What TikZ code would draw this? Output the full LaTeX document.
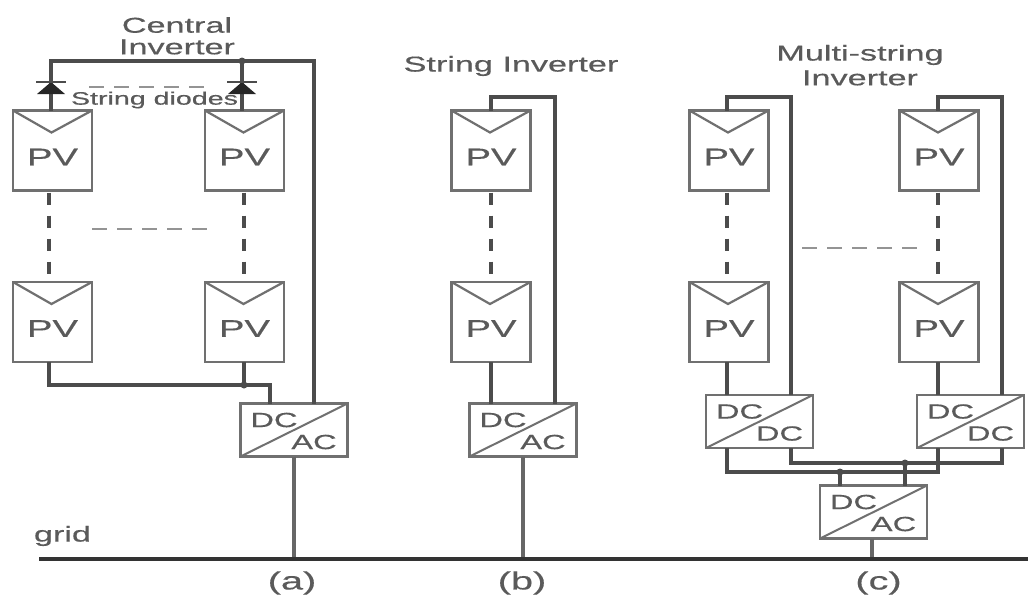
\documentclass[tikz,border=0pt]{standalone}
\usepackage{fontspec}
\setmainfont{Liberation Sans}[FakeBold=0.3]
\usetikzlibrary{calc}
\definecolor{wirec}{HTML}{4C4C4C}
\definecolor{boxc}{HTML}{707070}
\definecolor{txtc}{HTML}{5A5A5A}
\newcommand{\stx}[1]{\scalebox{1.59}[1]{#1}}
\tikzset{
  wire/.style={draw=wirec,line width=3.1pt},
  thick wire/.style={draw=wirec!85,line width=3.4pt},
  link/.style={draw=wirec,line width=3.6pt,dash pattern=on 12pt off 11pt},
  gap/.style={draw=boxc!75,line width=1.8pt,dash pattern=on 15pt off 10pt},
  pv/.style={draw=boxc,line width=2.3pt,minimum width=79pt,minimum height=80pt,inner sep=0pt,outer sep=0pt,fill=white},
  conv/.style={draw=boxc,line width=2.3pt,minimum width=107pt,minimum height=53pt,inner sep=0pt,outer sep=0pt,fill=white},
  lab/.style={text=txtc,inner sep=0pt,font=\fontsize{21.5}{24}\selectfont,align=center},
  convlab/.style={text=txtc,inner sep=0pt,font=\fontsize{20.5}{24}\selectfont},
  pvlab/.style={text=txtc,inner sep=0pt,font=\fontsize{24}{26}\selectfont},
  dot/.style={circle,fill=wirec,inner sep=0pt,minimum size=7pt},
  diodetri/.style={fill=black!85,draw=none}
}
\newcommand{\pvnode}[3]{% name, cx, cy
  \node[pv] (#1) at (#2,#3) {};
  \draw[draw=boxc,line width=2.2pt] (#1.north west) -- ($(#1.north)+(-1,22)$) -- (#1.north east);
  \node[pvlab,anchor=center] (#1t) at ($(#1.center)+(0,6.5)$) {\stx{PV}};
}
\newcommand{\convnode}[5]{% name, cx, cy, txt1, txt2
  \node[conv] (#1) at (#2,#3) {};
  \draw[draw=boxc,line width=2pt] (#1.south west) -- (#1.north east);
  \node[convlab] (#1a) at ($(#1.center)+(-20,-10)$) {\stx{#4}};
  \node[convlab] (#1b) at ($(#1.center)+(20,12)$) {\stx{#5}};
}
\begin{document}
\begin{tikzpicture}[x=1pt,y=-1pt]
\useasboundingbox (0,0) rectangle (1028,595);
\fill[white] (0,0) rectangle (1028,595);

% grid
\coordinate (busL) at (39,559);
\coordinate (busR) at (1028,559);
\coordinate (ga) at (293,559);
\coordinate (gb) at (522,559);
\coordinate (gc) at (872,559);

% (a) routing points
\coordinate (aTL) at (51,61);
\coordinate (aTM) at (242,61);
\coordinate (aTR) at (314,61);
\coordinate (aBL) at (49,385);
\coordinate (aBM) at (244,385);
\coordinate (aBR) at (270,385);

\pvnode{a1}{52.5}{150.5}
\pvnode{a2}{244.5}{150.5}
\pvnode{a3}{52.5}{322}
\pvnode{a4}{244.5}{322}
\convnode{ca}{294}{430}{DC}{AC}

\pvnode{b1}{491}{150.5}
\pvnode{b2}{491}{322}
\convnode{cb}{523}{430}{DC}{AC}

\pvnode{c1}{729}{150.5}
\pvnode{c2}{729}{322}
\pvnode{c3}{939}{150.5}
\pvnode{c4}{939}{322}
\convnode{d1}{759.5}{421.5}{DC}{DC}
\convnode{d2}{970.5}{421.5}{DC}{DC}
\convnode{ce}{873.5}{512}{DC}{AC}

% (a) wiring
\draw[wire] (aTL |- a1.north) -- (aTL) -- (aTR) -- (aTR |- ca.north);
\draw[wire] (aTM) -- (aTM |- a2.north);
\draw[wire] (aBL |- a3.south) -- (aBL) -- (aBR) -- (aBR |- ca.north);
\draw[wire] (aBM |- a4.south) -- (aBM);
\node[dot] (ja1) at (aTM) {};
\node[dot] (ja2) at (aBM) {};
\draw[link] ($(aBL |- a1.south)+(0,2)$) -- (aBL |- a3.north);
\draw[link] ($(aBM |- a2.south)+(0,2)$) -- (aBM |- a4.north);
\draw[thick wire] (ca.south) -- (ca.south |- ga);

% diodes
\foreach \dx in {51,242}{
  \fill[diodetri] (\dx-14,94) -- (\dx,82) -- (\dx+14,94) -- cycle;
  \draw[draw=wirec,line width=1.8pt] (\dx-15,82) -- (\dx+15,82);
}

% (b) wiring
\coordinate (bTL) at (491,97);
\coordinate (bTR) at (555,97);
\draw[wire] (bTL |- b1.north) -- (bTL) -- (bTR) -- (bTR |- cb.north);
\draw[link] ($(b1.south)+(0,2)$) -- (b2.north);
\draw[wire] (b2.south) -- (b2.south |- cb.north);
\draw[thick wire] (cb.south) -- (cb.south |- gb);

% (c) wiring
\coordinate (c1TL) at (727,97);
\coordinate (c1TR) at (791,97);
\coordinate (c3TL) at (938,97);
\coordinate (c3TR) at (1002,97);
\coordinate (uL) at (791,463);
\coordinate (uR) at (1002,463);
\coordinate (lL) at (727,472);
\coordinate (lR) at (938,472);
\coordinate (inL) at (840,472);
\coordinate (inR) at (905,463);
\draw[wire] (c1TL |- c1.north) -- (c1TL) -- (c1TR) -- (c1TR |- d1.north);
\draw[wire] (c3TL |- c3.north) -- (c3TL) -- (c3TR) -- (c3TR |- d2.north);
\draw[link] ($(c1TL |- c1.south)+(0,2)$) -- (c1TL |- c2.north);
\draw[link] ($(c3TL |- c3.south)+(0,2)$) -- (c3TL |- c4.north);
\draw[wire] (c1TL |- c2.south) -- (c1TL |- d1.north);
\draw[wire] (c3TL |- c4.south) -- (c3TL |- d2.north);
\draw[wire] (uL |- d1.south) -- (uL) -- (uR) -- (uR |- d2.south);
\draw[wire] (lL |- d1.south) -- (lL) -- (lR) -- (lR |- d2.south);
\draw[wire] (inL) -- (inL |- ce.north);
\draw[wire] (inR) -- (inR |- ce.north);
\node[dot] (jc1) at (inL) {};
\node[dot] (jc2) at (inR) {};
\draw[thick wire] (gc |- ce.south) -- (gc);

% grid line
\draw[draw=black!80,line width=3.4pt] (busL) -- (busR);

% parallel-string dashes
\coordinate (g1a) at (89,87); \coordinate (g1b) at (205,87);
\coordinate (g2a) at (92,229); \coordinate (g2b) at (212,229);
\coordinate (g3a) at (802,248); \coordinate (g3b) at (920,248);
\draw[gap] (g1a) -- (g1b);
\draw[gap] (g2a) -- (g2b);
\draw[gap] (g3a) -- (g3b);

% labels
\node[lab] (tca) at (177,25) {\stx{Central}};
\node[lab] (tcb) at (177,47) {\stx{Inverter}};
\node[lab,font=\fontsize{18}{20}\selectfont] (tsd) at (154.5,100) {\stx{String diodes}};
\node[lab] (tsi) at (511,66) {\stx{String Inverter}};
\node[lab] (tma) at (860,55) {\stx{Multi-string}};
\node[lab] (tmb) at (860,78) {\stx{Inverter}};
\node[lab] (tg) at (62.5,536) {\stx{grid}};
\node[lab,font=\fontsize{25}{28}\selectfont] (ta) at (292,583) {\stx{(a)}};
\node[lab,font=\fontsize{25}{28}\selectfont] (tb) at (522,583) {\stx{(b)}};
\node[lab,font=\fontsize{25}{28}\selectfont] (tc) at (878.5,583) {\stx{(c)}};
\end{tikzpicture}
\end{document}
